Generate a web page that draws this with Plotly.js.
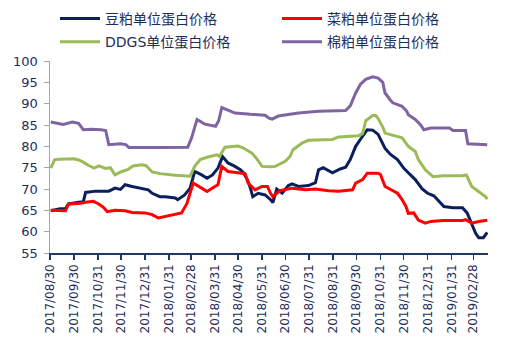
<!DOCTYPE html>
<html>
<head>
<meta charset="utf-8">
<script src="https://cdn.plot.ly/plotly-3.0.1.min.js"></script>
<style>html,body{margin:0;padding:0;background:#fff;}#chart{width:508px;height:354px;}</style>
</head>
<body>
<div id="chart"></div>
<script>
// ---- data ----
const seriesNames = ['豆粕单位蛋白价格', '菜粕单位蛋白价格', 'DDGS单位蛋白价格', '棉粕单位蛋白价格'];

const soyDates = ['2017-08-31','2017-09-05','2017-09-12','2017-09-19','2017-09-23','2017-10-06','2017-10-12','2017-10-15','2017-10-28','2017-11-14','2017-11-19','2017-11-22','2017-11-29','2017-12-05','2017-12-14','2017-12-27','2018-01-04','2018-01-09','2018-01-19','2018-01-26','2018-02-08','2018-02-11','2018-02-20','2018-02-27','2018-03-03','2018-03-05','2018-03-14','2018-03-21','2018-03-28','2018-04-04','2018-04-10','2018-04-17','2018-04-26','2018-05-03','2018-05-07','2018-05-12','2018-05-16','2018-05-19','2018-05-26','2018-06-04','2018-06-11','2018-06-14','2018-06-19','2018-06-26','2018-07-04','2018-07-09','2018-07-17','2018-07-30','2018-08-08','2018-08-12','2018-08-18','2018-08-25','2018-08-30','2018-09-09','2018-09-16','2018-09-22','2018-09-29','2018-10-05','2018-10-14','2018-10-21','2018-10-28','2018-11-06','2018-11-13','2018-11-22','2018-11-30','2018-12-06','2018-12-15','2018-12-24','2018-12-31','2019-01-08','2019-01-17','2019-01-21','2019-02-02','2019-02-14','2019-02-20','2019-02-26','2019-03-03','2019-03-07','2019-03-13','2019-03-18'];
const soyValues = [64.9,65.1,65.4,65.4,66.5,66.9,67.0,69.2,69.5,69.5,70.0,70.2,69.9,71.0,70.6,70.2,69.8,69.0,68.2,68.2,67.9,67.5,68.6,70.2,72.5,74.1,73.3,72.5,73.3,74.9,77.6,76.1,75.3,74.5,73.8,72.2,70.2,68.2,69.0,68.6,67.5,66.8,70.0,69.0,70.8,71.2,70.6,70.8,71.5,74.5,75.0,74.2,73.8,74.7,75.1,76.9,80.0,81.6,83.9,83.8,82.8,79.5,78.1,76.9,74.9,73.8,72.2,70.0,69.0,68.4,66.6,65.9,65.6,65.6,64.4,61.6,59.6,58.6,58.6,59.8];

const rapeDates = ['2017-08-31','2017-09-12','2017-09-19','2017-09-23','2017-10-06','2017-10-15','2017-10-25','2017-11-01','2017-11-07','2017-11-12','2017-11-22','2017-12-05','2017-12-14','2017-12-31','2018-01-09','2018-01-17','2018-01-26','2018-02-08','2018-02-16','2018-02-23','2018-02-27','2018-03-03','2018-03-14','2018-03-21','2018-03-31','2018-04-04','2018-04-09','2018-04-17','2018-04-30','2018-05-09','2018-05-13','2018-05-22','2018-05-31','2018-06-07','2018-06-11','2018-06-14','2018-06-23','2018-07-09','2018-07-26','2018-08-08','2018-08-25','2018-09-07','2018-09-25','2018-09-29','2018-10-08','2018-10-14','2018-10-28','2018-10-31','2018-11-06','2018-11-15','2018-11-22','2018-11-28','2018-12-03','2018-12-06','2018-12-13','2018-12-19','2018-12-28','2019-01-04','2019-01-20','2019-02-14','2019-02-18','2019-02-26','2019-03-07','2019-03-18'];
const rapeValues = [65.0,65.0,64.9,66.5,66.6,66.9,67.1,66.5,65.7,64.7,65.0,64.9,64.5,64.4,64.0,63.2,63.6,64.0,64.4,66.6,69.0,71.4,70.2,69.4,70.6,71.0,75.3,74.1,73.8,73.6,71.4,69.8,70.6,70.6,69.0,68.2,69.6,70.2,69.8,70.0,69.6,69.5,69.8,71.4,72.2,73.7,73.7,73.4,70.6,69.8,69.0,67.5,65.9,64.3,64.4,62.7,62.0,62.4,62.6,62.6,62.8,62.0,62.4,62.7];

const ddgsDates = ['2017-08-31','2017-09-05','2017-09-12','2017-09-30','2017-10-06','2017-10-12','2017-10-19','2017-10-26','2017-11-01','2017-11-10','2017-11-16','2017-11-22','2017-12-01','2017-12-09','2017-12-15','2017-12-27','2018-01-01','2018-01-09','2018-01-19','2018-01-26','2018-02-08','2018-02-27','2018-03-05','2018-03-12','2018-03-22','2018-04-03','2018-04-06','2018-04-13','2018-04-30','2018-05-07','2018-05-18','2018-05-25','2018-05-31','2018-06-11','2018-06-17','2018-06-30','2018-07-06','2018-07-10','2018-07-22','2018-07-30','2018-08-30','2018-09-07','2018-10-03','2018-10-08','2018-10-12','2018-10-21','2018-10-25','2018-10-28','2018-11-03','2018-11-06','2018-11-19','2018-11-28','2018-12-06','2018-12-15','2018-12-19','2018-12-28','2019-01-07','2019-01-20','2019-02-14','2019-02-19','2019-02-26','2019-03-07','2019-03-16','2019-03-18'];
const ddgsValues = [74.9,76.9,77.0,77.1,76.8,76.3,75.5,74.9,75.4,74.8,75.0,73.3,74.1,74.6,75.4,75.7,75.5,74.0,73.6,73.4,73.2,73.0,75.3,76.9,77.5,78.0,77.6,79.8,80.1,79.6,78.4,76.9,75.3,75.2,75.3,76.5,77.6,79.2,80.8,81.4,81.6,82.2,82.5,83.0,86.0,87.2,87.2,86.5,84.5,83.1,82.4,82.0,80.0,78.8,76.9,74.5,72.9,73.1,73.1,73.3,70.6,69.4,68.2,67.6];

const cottonDates = ['2017-08-31','2017-09-08','2017-09-16','2017-09-28','2017-10-06','2017-10-12','2017-10-22','2017-11-04','2017-11-10','2017-11-14','2017-11-29','2017-12-06','2017-12-10','2018-01-19','2018-02-24','2018-03-01','2018-03-08','2018-03-18','2018-03-28','2018-04-01','2018-04-05','2018-04-09','2018-04-17','2018-04-26','2018-05-16','2018-06-04','2018-06-09','2018-06-13','2018-06-21','2018-07-06','2018-07-17','2018-08-12','2018-09-16','2018-09-22','2018-09-29','2018-10-05','2018-10-12','2018-10-21','2018-10-28','2018-11-03','2018-11-06','2018-11-13','2018-11-16','2018-11-28','2018-12-04','2018-12-06','2018-12-15','2018-12-22','2018-12-26','2019-01-04','2019-01-28','2019-02-02','2019-02-18','2019-02-21','2019-03-18'];
const cottonValues = [85.7,85.4,85.1,85.7,85.4,83.9,84.0,83.9,83.7,80.4,80.6,80.4,79.7,79.7,79.8,82.0,86.3,85.2,84.8,84.7,86.0,89.1,88.5,87.8,87.5,87.3,86.6,86.4,87.1,87.5,87.8,88.2,88.4,89.5,92.5,94.5,95.7,96.3,96.0,95.0,92.5,90.8,90.2,89.4,88.2,87.4,86.3,85.0,83.9,84.3,84.3,83.7,83.7,80.6,80.4];

const tickDates = ['2017-08-30','2017-09-30','2017-10-31','2017-11-30','2017-12-31','2018-01-31','2018-02-28','2018-03-31','2018-04-30','2018-05-31','2018-06-30','2018-07-31','2018-08-31','2018-09-30','2018-10-31','2018-11-30','2018-12-31','2019-01-31','2019-02-28'];
const tickLabels = ['2017/08/30','2017/09/30','2017/10/31','2017/11/30','2017/12/31','2018/01/31','2018/02/28','2018/03/31','2018/04/30','2018/05/31','2018/06/30','2018/07/31','2018/08/31','2018/09/30','2018/10/31','2018/11/30','2018/12/31','2019/01/31','2019/02/28'];

const colors = ['#0b1f5c', '#ff0000', '#9bbb59', '#8064a2'];

// ---- chart ----
const fontFam = 'DejaVu Sans, Noto Sans CJK SC, sans-serif';
const textColor = '#1f2d5a';
const xs = [soyDates, rapeDates, ddgsDates, cottonDates];
const ys = [soyValues, rapeValues, ddgsValues, cottonValues];
const legendIds = ['legend', 'legend2', 'legend', 'legend2'];
const traces = seriesNames.map((n, i) => ({
  type: 'scatter', mode: 'lines', name: n,
  x: xs[i], y: ys[i],
  line: {color: colors[i], width: 3},
  legend: legendIds[i], legendgroup: 'g' + i,
  hoverinfo: 'skip'
}));

const legendBase = {
  orientation: 'v', xref: 'container', yref: 'container',
  y: 0.992, xanchor: 'left', yanchor: 'top',
  itemwidth: 40, traceorder: 'grouped', tracegroupgap: 2,
  font: {family: fontFam, size: 14, color: textColor},
  bgcolor: 'rgba(0,0,0,0)', borderwidth: 0
};

const layout = {
  width: 508, height: 354,
  margin: {l: 50, r: 20, t: 61, b: 101, autoexpand: false},
  paper_bgcolor: '#ffffff', plot_bgcolor: '#ffffff',
  font: {family: fontFam, color: textColor, size: 12},
  showlegend: true,
  legend: Object.assign({}, legendBase, {x: 55 / 508}),
  legend2: Object.assign({}, legendBase, {x: 277 / 508}),
  xaxis: {
    type: 'date', range: ['2017-08-30', '2019-03-19'],
    tickvals: tickDates, ticktext: tickLabels, tickangle: -90,
    showgrid: false, zeroline: false,
    showline: true, linecolor: '#1f3864', linewidth: 1.5,
    ticks: 'outside', ticklen: 5, tickcolor: '#1f3864', tickwidth: 1.5,
    tickfont: {family: fontFam, size: 12, color: textColor}
  },
  yaxis: {
    range: [55, 100], dtick: 5, tick0: 55,
    showgrid: false, zeroline: false,
    showline: true, linecolor: '#a6a6a6', linewidth: 1.5,
    ticks: 'outside', ticklen: 5, tickcolor: '#a6a6a6',
    ticklabelstandoff: 3,
    tickfont: {family: fontFam, size: 13, color: textColor}
  }
};

Plotly.newPlot('chart', traces, layout, {staticPlot: true, displayModeBar: false});
</script>
</body>
</html>
